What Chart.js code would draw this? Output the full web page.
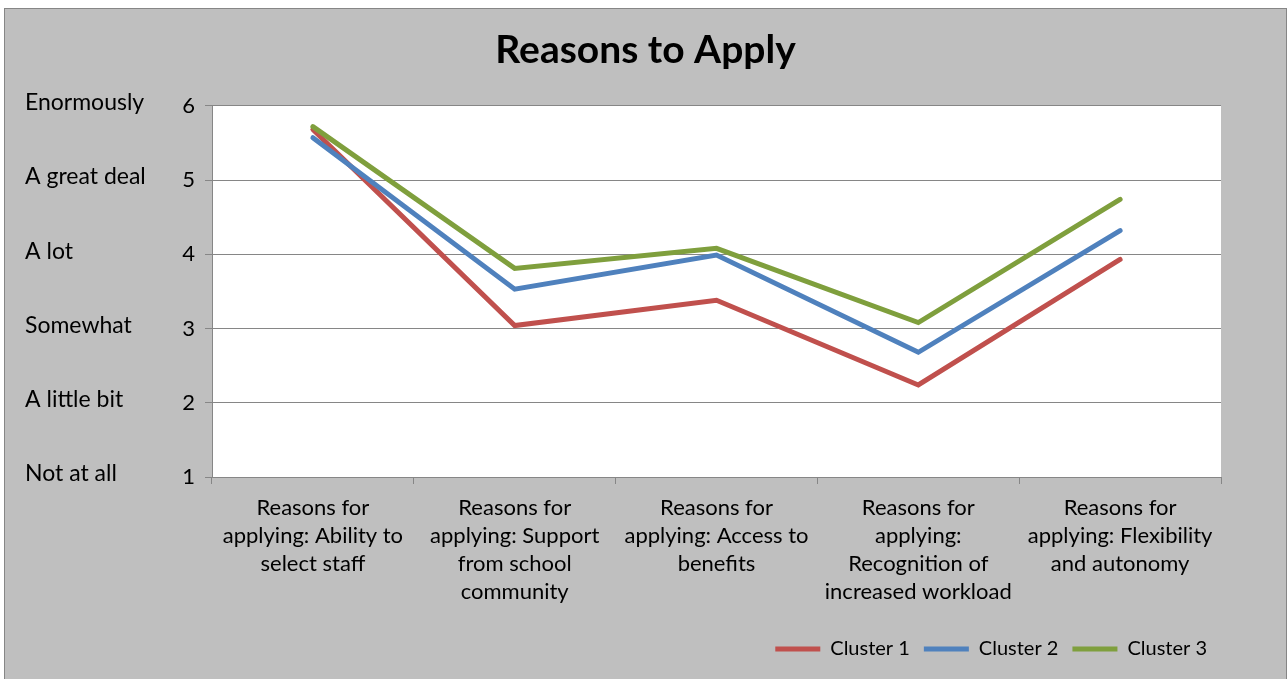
<!DOCTYPE html>
<html>
<head>
<meta charset="utf-8">
<script src="https://cdn.jsdelivr.net/npm/chart.js@4.4.1/dist/chart.umd.min.js"></script>
<style>
  html, body { margin: 0; padding: 0; background: #fff; }
  #box {
    position: absolute; left: 4px; top: 8px;
    width: 1281px; height: 671px;
    background: #bfbfbf;
    border-left: 1px solid #868686;
    border-top: 1px solid #868686;
    border-right: 1px solid #868686;
  }
</style>
</head>
<body>
<div id="box"><canvas id="reasonsChart" width="1281" height="670"></canvas></div>
<script>
// Categories (split into lines like the original)
const categories = [
  ['Reasons for', 'applying: Ability to', 'select staff'],
  ['Reasons for', 'applying: Support', 'from school', 'community'],
  ['Reasons for', 'applying: Access to', 'benefits'],
  ['Reasons for', 'applying:', 'Recognition of', 'increased workload'],
  ['Reasons for', 'applying: Flexibility', 'and autonomy']
]

// Series values
const cluster1 = [5.68, 3.04, 3.38, 2.24, 3.93]
const cluster2 = [5.57, 3.53, 3.99, 2.68, 4.32]
const cluster3 = [5.72, 3.81, 4.08, 3.08, 4.74]

// Text labels shown next to the numeric ticks
const scaleLabels = ['Not at all', 'A little bit', 'Somewhat', 'A lot', 'A great deal', 'Enormously']

const FONT = 'Lato, "Open Sans", sans-serif'

// white plot background
const plotBackground = {
  id: 'plotBackground',
  beforeDraw(chart) {
    const { ctx, chartArea } = chart
    ctx.save()
    ctx.fillStyle = '#ffffff'
    ctx.fillRect(chartArea.left, chartArea.top, chartArea.right - chartArea.left, chartArea.bottom - chartArea.top)
    ctx.restore()
  }
}

const ctx = document.getElementById('reasonsChart').getContext('2d')

new Chart(ctx, {
  type: 'line',
  data: {
    labels: categories,
    datasets: [
      { label: 'Cluster 1', data: cluster1, borderColor: '#C0504D', backgroundColor: '#C0504D', borderWidth: 5, order: 3 },
      { label: 'Cluster 2', data: cluster2, borderColor: '#4F81BD', backgroundColor: '#4F81BD', borderWidth: 5, order: 2 },
      { label: 'Cluster 3', data: cluster3, borderColor: '#7F9F3D', backgroundColor: '#7F9F3D', borderWidth: 5, order: 1 }
    ]
  },
  options: {
    responsive: false,
    animation: false,
    elements: {
      line: { tension: 0, borderCapStyle: 'round', borderJoinStyle: 'miter' },
      point: { radius: 0, hoverRadius: 0 }
    },
    layout: {
      padding: { left: 20, right: 20, top: 0, bottom: 10 }
    },
    scales: {
      x: {
        offset: true,
        grid: { drawOnChartArea: false, offset: true, color: '#868686', tickLength: 7 },
        border: { color: '#868686' },
        ticks: {
          maxRotation: 0,
          autoSkip: false,
          padding: 10,
          color: '#000',
          font: { family: FONT, size: 22, lineHeight: 1.27 }
        },
        afterFit(scale) { scale.height = 148 }
      },
      y: {
        min: 1,
        max: 6,
        weight: 0,
        ticks: { stepSize: 1, padding: 10, color: '#000', font: { family: FONT, size: 22 } },
        grid: { color: '#868686', tickLength: 7 },
        border: { color: '#868686' },
        afterFit(scale) { scale.width = 40 }
      },
      y2: {
        position: 'left',
        min: 1,
        max: 6,
        weight: 1,
        grid: { display: false },
        border: { display: false },
        ticks: {
          stepSize: 1,
          crossAlign: 'far',
          labelOffset: -3,
          color: '#000',
          font: { family: FONT, size: 23 },
          callback: value => scaleLabels[value - 1]
        },
        afterFit(scale) { scale.width = 147 }
      },
      // empty spacer on the right so the title stays centred on the whole chart
      yRight: {
        position: 'right',
        min: 1,
        max: 6,
        grid: { display: false },
        border: { display: false },
        ticks: { display: false },
        afterFit(scale) { scale.width = 45 }
      }
    },
    plugins: {
      title: {
        display: true,
        text: 'Reasons to Apply',
        color: '#000',
        font: { family: FONT, size: 39, weight: 'bold', lineHeight: 1.2 },
        padding: { top: 18, bottom: 32 }
      },
      legend: {
        position: 'bottom',
        align: 'end',
        fullSize: false,
        labels: {
          usePointStyle: true,
          pointStyle: 'line',
          pointStyleWidth: 45,
          padding: 14,
          color: '#000',
          font: { family: FONT, size: 20 },
          sort: (a, b) => a.datasetIndex - b.datasetIndex
        }
      },
      tooltip: { enabled: false }
    }
  },
  plugins: [plotBackground]
})
</script>
</body>
</html>
